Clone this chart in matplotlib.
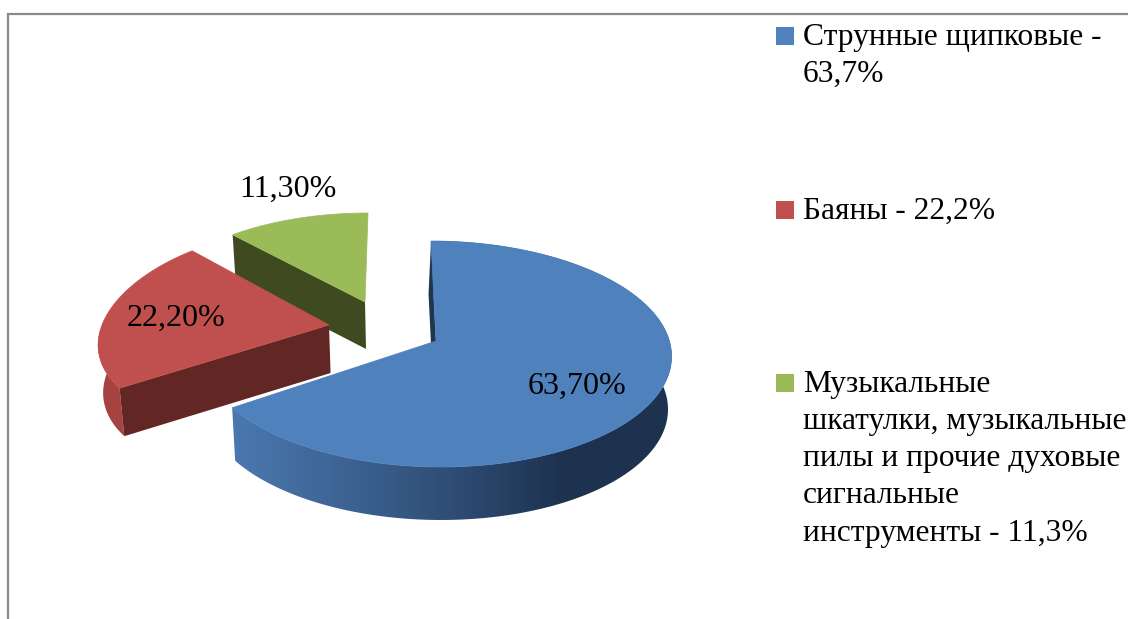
import numpy as np
import matplotlib
matplotlib.use("Agg")
import matplotlib.pyplot as plt
from matplotlib.colors import LinearSegmentedColormap
from matplotlib.patches import Polygon, Rectangle

# === data ===
values = [63.7, 22.2, 11.3]
legend_labels = [
    "Струнные щипковые -\n63,7%",
    "Баяны - 22,2%",
    "Музыкальные\nшкатулки, музыкальные\nпилы и прочие духовые\nсигнальные\nинструменты - 11,3%",
]
top_colors = ["#4f81bd", "#c0504d", "#9bbb59"]
wall_colors = ["#1f3550", "#622625", "#404a20"]

# apex x, apex y, radius x, radius y, perspective x, perspective y, skew, depth
geometry = [
    (436, 341, 233.4, 111.5, 0.115, 0.115, 5, 53),
    (329, 325, 227.0, 106.7, 0.22, 0.096, 9, 48),
    (365, 302, 210.0, 93.9, 0.055, 0.055, -3, 47),
]
label_pos = [(577, 386), (176, 318), (288, 189)]
legend_y = [27, 201, 374]
VANISH_X = 433
BOTTOM_SCALE = 0.985


def project(angle, g, lowered=False):
    x0, y0, rx, ry, px, py, s, depth = g
    u, v = np.sin(np.radians(angle)), -np.cos(np.radians(angle))
    x = x0 + rx * u / (1 - px * v) + s * v
    y = y0 + ry * v / (1 - py * v)
    if lowered:
        x = VANISH_X + (x - VANISH_X) * BOTTOM_SCALE
        y = y + depth
    return np.column_stack([np.atleast_1d(x), np.atleast_1d(y)])


def apex(g, lowered=False):
    x, y = g[0], g[1]
    if lowered:
        x = VANISH_X + (x - VANISH_X) * BOTTOM_SCALE
        y = y + g[7]
    return np.array([[x, y]])


fig = plt.figure(figsize=(11.28, 6.19), dpi=100)
ax = fig.add_axes([0, 0, 1, 1])
plt.rcParams["font.family"] = ["Liberation Serif", "DejaVu Serif"]

# frame of the chart area, cut off by the picture
ax.plot([8, 8, 1128], [619, 14, 14], color="#8a8a8a", lw=1.6, solid_joinstyle="miter")

# slice angles, clockwise from the top
fractions = np.array(values) / sum(values)
edges = np.concatenate([[0], np.cumsum(fractions) * 360])

blue_cmap = LinearSegmentedColormap.from_list(
    "blue_rim", ["#4a78b0", "#3d6493", "#2f4d75", "#1d324f", "#1d324f"])
red_cmap = LinearSegmentedColormap.from_list("red_rim", ["#a04140", "#ab4541"])

# back to front: green, red, blue
for i in [2, 1, 0]:
    g = geometry[i]
    arc = np.linspace(edges[i], edges[i + 1], 200)
    top = project(arc, g)
    low = project(arc, g, lowered=True)

    # outer wall
    rim = Polygon(np.vstack([top, low[::-1]]), closed=True, fc="none", ec="none")
    ax.add_patch(rim)
    if i == 0:
        im = ax.imshow(np.linspace(0, 1, 256)[None, :], cmap=blue_cmap, aspect="auto",
                       extent=(232, 672, 530, 230), zorder=1 + 2 - i)
        im.set_clip_path(rim)
    elif i == 1:
        im = ax.imshow(np.linspace(0, 1, 64)[None, :], cmap=red_cmap, aspect="auto",
                       extent=(96, 130, 445, 330), zorder=1 + 2 - i)
        im.set_clip_path(rim)

    # cut faces that can be seen
    if i == 0:
        shift = np.array([[-2.5, 0]])
        cut = np.vstack([apex(g), project(edges[0], g), project(edges[0], g, True) + shift,
                         apex(g, True) + shift])
    else:
        cut = np.vstack([apex(g), project(edges[i], g), project(edges[i], g, True), apex(g, True)])
    ax.add_patch(Polygon(cut, closed=True, fc=wall_colors[i], ec="none", zorder=1 + 2 - i))

    # top face
    ax.add_patch(Polygon(np.vstack([apex(g), top]), closed=True, fc=top_colors[i],
                         ec=top_colors[i], lw=0.5, zorder=1.5 + 2 - i))

# value labels
for v, (x, y) in zip(values, label_pos):
    txt = f"{v:.2f}%".replace(".", ",")
    ax.text(x, y, txt, ha="center", va="center", fontsize=23, color="black", zorder=6)

# legend
for label, color, y in zip(legend_labels, top_colors, legend_y):
    ax.add_patch(Rectangle((776, y), 18, 18, fc=color, ec="none", zorder=6))
    ax.text(803, y - 4, label, ha="left", va="top", fontsize=22.7, color="black",
            linespacing=1.37, clip_on=True, zorder=6)

ax.set_xlim(0, 1128)
ax.set_ylim(619, 0)
ax.axis("off")
fig.savefig("out.png", dpi=100, facecolor="white")
